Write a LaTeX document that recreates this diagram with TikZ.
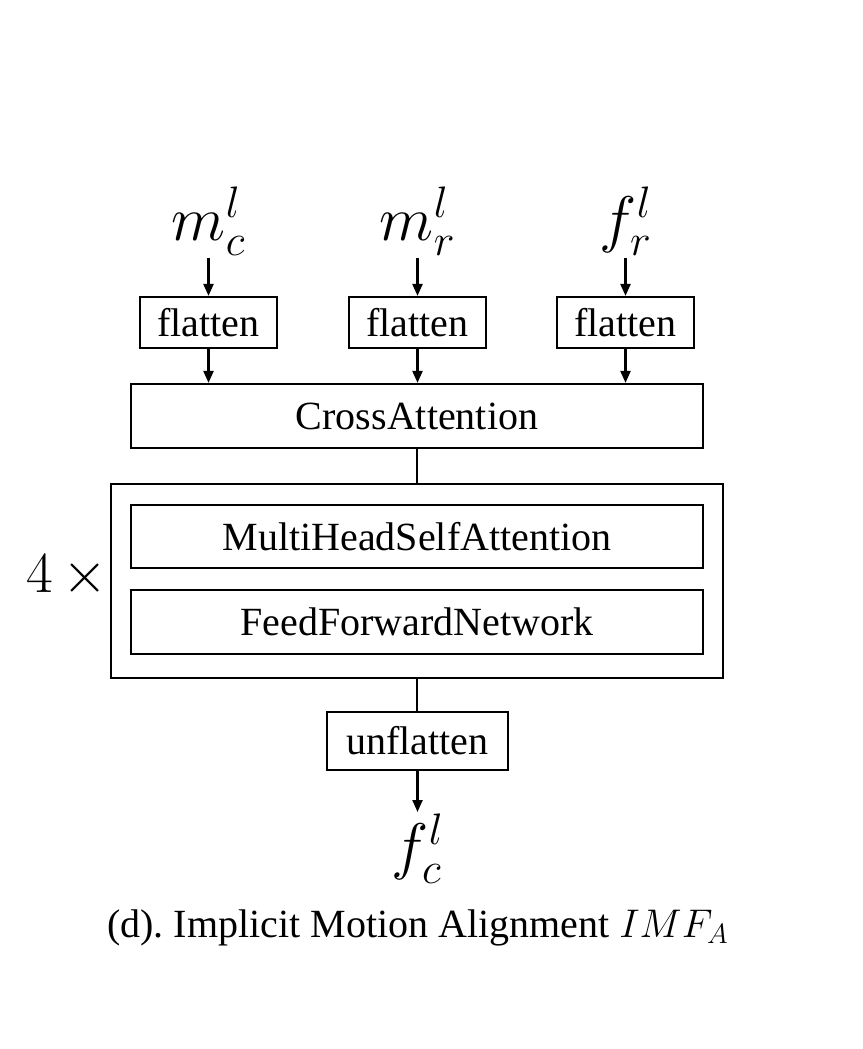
\RequirePackage{fix-cm}
\documentclass[tikz,border=0pt]{standalone}
\usepackage{fontspec}
\setmainfont{Liberation Serif}
\usetikzlibrary{arrows.meta}
\begin{document}
\begin{tikzpicture}[x=1pt,y=-1pt,
  lw/.style={line width=2.2pt},
  box/.style={draw,lw,rectangle,inner sep=0pt,font=\fontsize{40}{48}\selectfont},
  arr/.style={lw,-{Stealth[length=12pt,width=10pt,inset=0pt]}},
  lbl/.style={inner sep=2pt,font=\fontsize{63}{72}\selectfont}]
\useasboundingbox (0,0) rectangle (862,1049);
\node[box,minimum width=137pt,minimum height=51pt] (fl1) at (208.5,322.5) {flatten};
\node[box,minimum width=137pt,minimum height=51pt] (fl2) at (417.5,322.5) {flatten};
\node[box,minimum width=137pt,minimum height=51pt] (fl3) at (625.5,322.5) {flatten};
\node[lbl,anchor=base] (mc) at (208.5,240) {$m_c^l$};
\node[lbl,anchor=base] (mr) at (417.5,240) {$m_r^l$};
\node[lbl,anchor=base] (fr) at (625.5,240) {$f_r^l$};
\node[box,minimum width=572pt,minimum height=64pt] (ca) at (417,416) {CrossAttention};
\node[box,minimum width=612pt,minimum height=194pt] (outer) at (417,581) {};
\node[box,minimum width=572pt,minimum height=63pt] (mhsa) at (417,536.5) {MultiHeadSelfAttention};
\node[box,minimum width=572pt,minimum height=64pt] (ffn) at (417,622) {FeedForwardNetwork};
\node[box,minimum width=181pt,minimum height=58pt] (unfl) at (417.5,741) {unflatten};
\node[lbl,anchor=north] (fc) at (417.5,812) {$f_c^l$};
\node[inner sep=0pt,anchor=base west,font=\fontsize{58}{66}\selectfont] (rep) at (26,592) {$4\mkern3mu{\times}$};
\node[anchor=base west,inner sep=0pt,font=\fontsize{40}{48}\selectfont] (cap) at (107,937) {(d).\ Implicit Motion Alignment $IMF_A$};
\draw[arr] (mc) -- (fl1);
\draw[arr] (mr) -- (fl2);
\draw[arr] (fr) -- (fl3);
\draw[arr] (fl1.south) -- (fl1.south |- ca.north);
\draw[arr] (fl2.south) -- (fl2.south |- ca.north);
\draw[arr] (fl3.south) -- (fl3.south |- ca.north);
\draw[lw] (ca.south) -- (ca.south |- outer.north);
\draw[lw] (outer.south) -- (outer.south |- unfl.north);
\draw[arr] (unfl) -- (fc);
\end{tikzpicture}
\end{document}
